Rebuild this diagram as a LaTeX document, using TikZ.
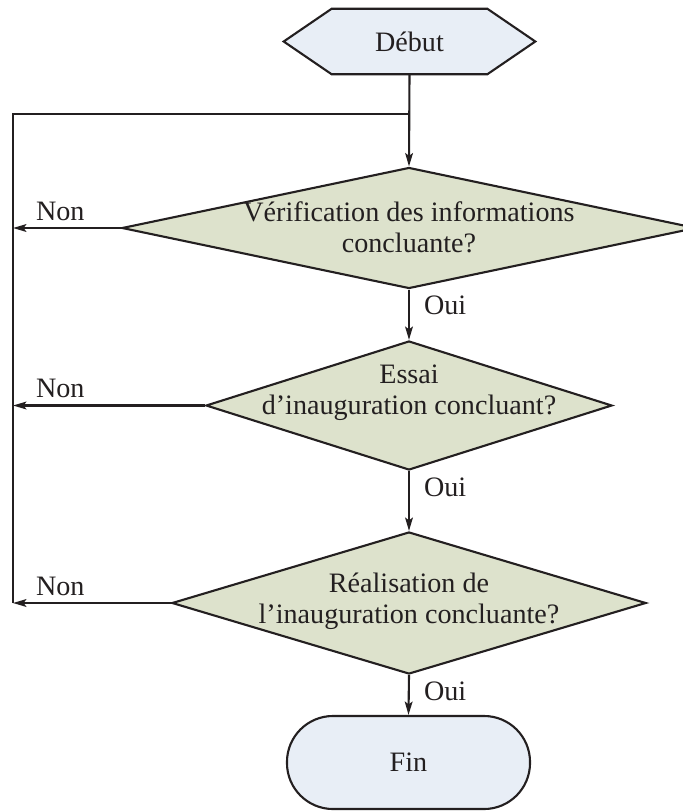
\documentclass[tikz,border=0pt]{standalone}
\usepackage{fontspec}
\setmainfont{Liberation Serif}
\usetikzlibrary{arrows.meta}
\usetikzlibrary{shapes.geometric}
\usetikzlibrary{backgrounds}
\definecolor{ink}{RGB}{35, 31, 32}
\definecolor{blue2}{RGB}{232, 238, 246}
\definecolor{green2}{RGB}{221, 226, 204}
\tikzset{
thickline/.style={draw=ink, line width=1.5pt},
startbox/.style={draw=none, inner sep=0pt, minimum width=6.275cm, minimum height=1.625cm},
decision/.style 2 args={diamond, thickline, fill=green2, inner sep=0pt,
	minimum width=#1, minimum height=#2},
question/.style={align=center, inner sep=0pt},
endbox/.style={rectangle, thickline, fill=blue2, rounded corners=1.15cm,
	minimum width=6.075cm, minimum height=2.325cm},
flow/.style={thickline, -{Stealth[length=9.5pt, width=5.5pt, inset=2pt]}},
nolabel/.style={anchor=base west, inner sep=0pt, xshift=0.55cm, yshift=0.2cm},
yeslabel/.style={anchor=base west, inner sep=0pt, xshift=0.35cm, yshift=-0.625cm},
}

\begin{document}
\begin{tikzpicture}[x=0.025cm, y=-0.025cm,
	every node/.style={font=\fontsize{20pt}{22pt}\selectfont, text=ink}]
\useasboundingbox (0,0) rectangle (683,812);

%Place the nodes
\node[startbox] (start) at (409.5,41.5) {Début};
\begin{scope}[on background layer]
\filldraw[thickline, fill=blue2] (start.west) -- ([xshift=1.2cm]start.north west)
	-- ([xshift=-1.2cm]start.north east) -- (start.east)
	-- ([xshift=-1.2cm]start.south east) -- ([xshift=1.2cm]start.south west) -- cycle;
\end{scope}

\node[decision={14.35cm}{3.025cm}] (q1) at (409,228) {};
\node[question] (q1t) at (409,227) {Vérification des informations\\concluante?};

\node[decision={10.15cm}{3.225cm}] (q2) at (409,405.5) {};
\node[question] (q2t) at (409,393) {Essai\\d’inauguration concluant?};

\node[decision={11.85cm}{3.55cm}] (q3) at (409,603) {};
\node[question] (q3t) at (409,601) {Réalisation de\\l’inauguration concluante?};

\node[endbox] (fin) at (408.5,762.5) {Fin};

%Loop back to the top
\coordinate (looptop) at (409,114);
\coordinate (lefttop) at (13,114);
\coordinate (leftbot) at (13,603);

\draw[flow] (start.south) -- (q1.north);
\draw[thickline] (leftbot) -- (lefttop) -- (looptop);

\draw[flow] (q1.west) -- (q1.west -| lefttop) node[nolabel] {Non};
\draw[flow] (q2.west) -- (q2.west -| lefttop) node[nolabel] {Non};
\draw[flow] (q3.west) -- (leftbot) node[nolabel] {Non};

\draw[flow] (q1.south) node[yeslabel] {Oui} -- (q2.north);
\draw[flow] (q2.south) node[yeslabel] {Oui} -- (q3.north);
\draw[flow] (q3.south) node[yeslabel] {Oui} -- (fin.north);

\end{tikzpicture}
\end{document}
